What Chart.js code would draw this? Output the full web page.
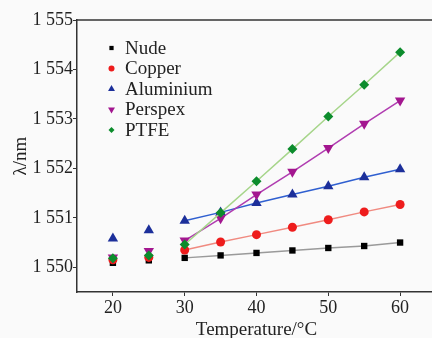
<!doctype html>
<html>
<head>
	<title>Wavelength vs Temperature</title>
	<script src="https://cdn.jsdelivr.net/npm/chart.js@4/dist/chart.umd.min.js"></script>
	<style>
	body { margin: 0; overflow: hidden; background: #fafafa; }
	#wrap { width: 442px; height: 338px; }
	</style>
</head>
<body>
	<div id="wrap"><canvas id="canvas"></canvas></div>
	<script>
		// temperatures (x) and wavelengths (y)
		var temps = [20, 25, 30, 35, 40, 45, 50, 55, 60];
		var nude      = [1550.09, 1550.14, 1550.19, 1550.24, 1550.29, 1550.34, 1550.39, 1550.43, 1550.50];
		var copper    = [1550.15, 1550.20, 1550.35, 1550.51, 1550.66, 1550.81, 1550.96, 1551.12, 1551.27];
		var aluminium = [1550.58, 1550.75, 1550.94, 1551.11, 1551.30, 1551.47, 1551.64, 1551.82, 1551.98];
		var perspex   = [1550.20, 1550.33, 1550.54, 1550.99, 1551.47, 1551.93, 1552.41, 1552.90, 1553.37];
		var ptfe      = [1550.18, 1550.24, 1550.46, 1551.10, 1551.74, 1552.39, 1553.05, 1553.69, 1554.35];

		var seriesNames = ['Nude', 'Copper', 'Aluminium', 'Perspex', 'PTFE'];
		var xTicks = [20, 30, 40, 50, 60];
		var yTicks = [1550, 1551, 1552, 1553, 1554, 1555];
		var yTickLabels = ['1 550', '1 551', '1 552', '1 553', '1 554', '1 555'];

		var serif = "'Liberation Serif', 'DejaVu Serif', serif";

		function pts(arr) {
			return arr.map(function(v, i) { return {x: temps[i], y: v}; });
		}

		// lines only join the points from 30 °C on
		var hideEarly = {
			borderColor: function(c) { return c.p0.parsed.x < 30 ? 'rgba(0,0,0,0)' : undefined; }
		};

		var styles = [
			{line: '#9a9a9a', fill: '#000000', point: 'rect', r: 4.5, rot: 0},
			{line: '#f08a80', fill: '#ee1c1c', point: 'circle', r: 4.5, rot: 0},
			{line: '#2f5fd0', fill: '#1c2f9a', point: 'triangle', r: 6, rot: 0},
			{line: '#b03cb0', fill: '#a3168f', point: 'triangle', r: 6, rot: 180},
			{line: '#a6d58a', fill: '#0c8c2c', point: 'rectRot', r: 5, rot: 0}
		];
		var values = [nude, copper, aluminium, perspex, ptfe];

		var datasets = values.map(function(v, i) {
			var s = styles[i];
			return {
				label: seriesNames[i],
				data: pts(v),
				borderColor: s.line,
				borderWidth: 1.5,
				backgroundColor: s.fill,
				pointBackgroundColor: s.fill,
				pointBorderColor: s.fill,
				pointBorderWidth: 0,
				pointStyle: s.point,
				pointRadius: s.r,
				pointRotation: s.rot,
				order: 5 - i,
				segment: hideEarly
			};
		});

		// box line along the top of the plot
		var topLine = {
			id: 'topLine',
			afterDraw: function(chart) {
				var a = chart.chartArea, ctx = chart.ctx;
				ctx.save();
				ctx.strokeStyle = '#333';
				ctx.lineWidth = 1.5;
				ctx.beginPath();
				ctx.moveTo(a.left, a.top);
				ctx.lineTo(a.right, a.top);
				ctx.stroke();
				ctx.restore();
			}
		};

		// legend sits inside the plot, top left
		var innerLegend = {
			id: 'innerLegend',
			afterDraw: function(chart) {
				var a = chart.chartArea, ctx = chart.ctx;
				ctx.save();
				ctx.font = '19px ' + serif;
				ctx.textBaseline = 'middle';
				seriesNames.forEach(function(name, i) {
					var s = styles[i];
					var y = a.top + 28 + i * 20.5;
					ctx.fillStyle = s.fill;
					ctx.strokeStyle = s.fill;
					Chart.helpers.drawPoint(ctx, {
						pointStyle: s.point, radius: s.point == 'triangle' ? 4 : 3,
						rotation: s.rot, borderWidth: 0
					}, a.left + 34.5, y);
					ctx.fillStyle = '#222';
					ctx.fillText(name, a.left + 48, y + 1);
				});
				ctx.restore();
			}
		};

		window.onload = function() {
			var ctx = document.getElementById('canvas').getContext('2d');
			window.myChart = new Chart(ctx, {
				type: 'line',
				data: {datasets: datasets},
				plugins: [topLine, innerLegend],
				options: {
					responsive: true,
					maintainAspectRatio: false,
					animation: false,
					layout: {padding: {top: 20, left: 0, right: 0, bottom: 0}},
					plugins: {
						legend: {display: false},
						tooltip: {enabled: false}
					},
					scales: {
						x: {
							type: 'linear',
							min: 15,
							max: 65,
							afterBuildTicks: function(s) {
								s.ticks = xTicks.map(function(v) { return {value: v}; });
							},
							afterFit: function(s) { s.height = 46; },
							grid: {display: true, drawOnChartArea: false, tickLength: 4, tickColor: '#333'},
							border: {color: '#333', width: 1.5},
							ticks: {
								font: {family: serif, size: 18},
								color: '#222',
								padding: 1,
								maxRotation: 0
							},
							title: {
								display: true,
								text: 'Temperature/°C',
								font: {family: serif, size: 19},
								color: '#222',
								padding: {top: 0, bottom: -3}
							}
						},
						y: {
							min: 1549.5,
							max: 1555,
							afterBuildTicks: function(s) {
								s.ticks = yTicks.map(function(v) { return {value: v}; });
							},
							afterFit: function(s) { s.width = 77; },
							grid: {display: true, drawOnChartArea: false, tickLength: 4, tickColor: '#333'},
							border: {color: '#333', width: 1.5},
							ticks: {
								font: {family: serif, size: 18},
								color: '#222',
								padding: 0,
								callback: function(v) {
									var k = yTicks.indexOf(v);
									return k >= 0 ? yTickLabels[k] : '';
								}
							},
							title: {
								display: true,
								text: 'λ/nm',
								font: {family: serif, size: 19},
								color: '#222',
								padding: {top: 10, bottom: 0}
							}
						}
					}
				}
			});
		};
	</script>
</body>
</html>
